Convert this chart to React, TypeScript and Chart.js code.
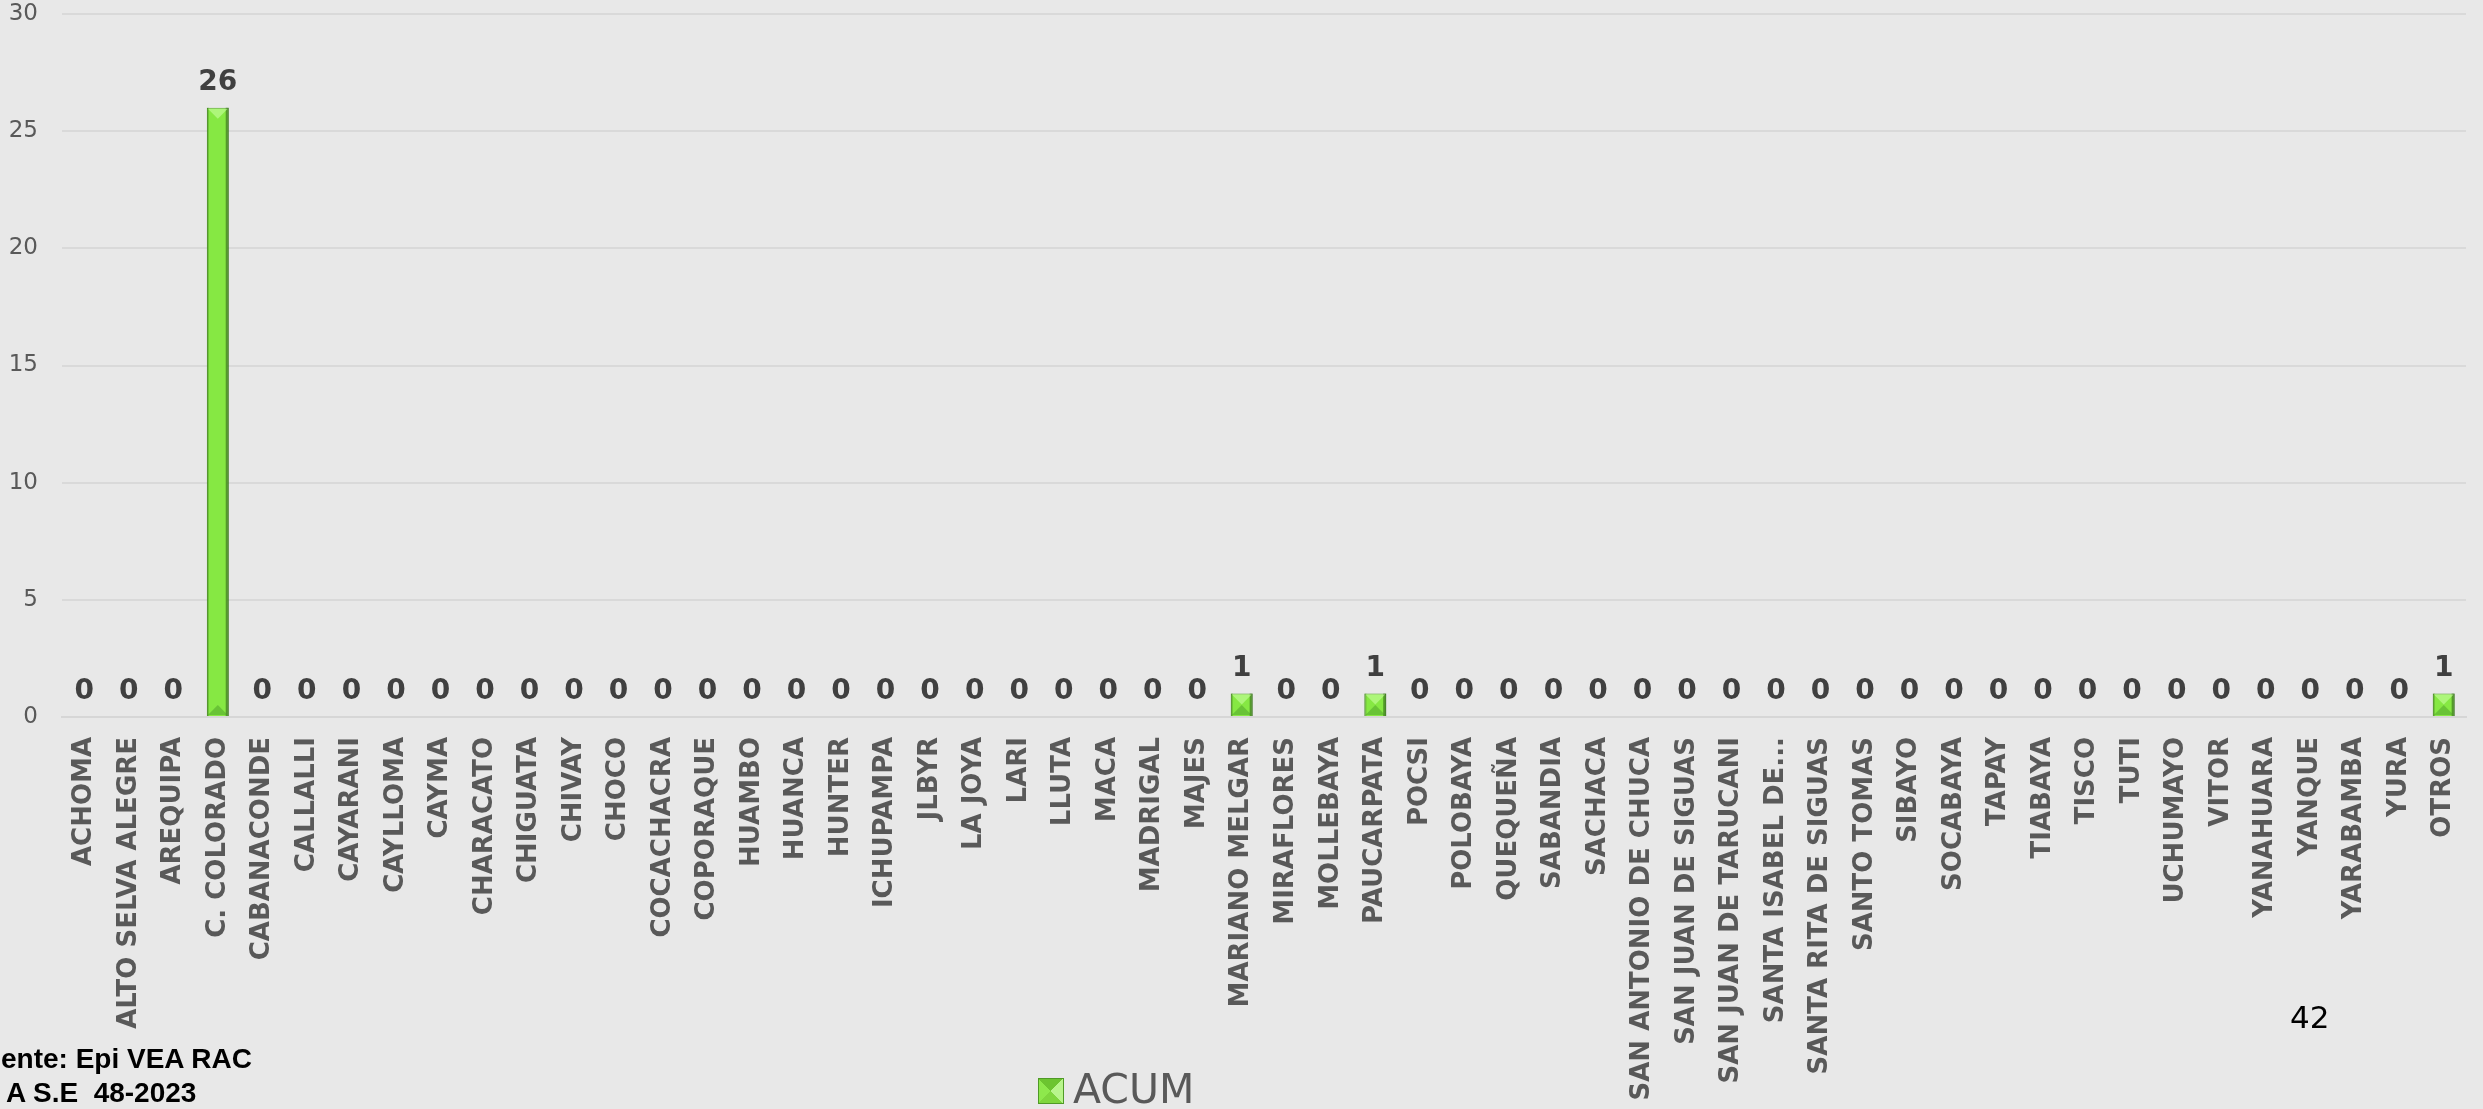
import React, { useEffect, useRef } from "react";
import { Chart, registerables } from "chart.js";

Chart.register(...registerables);

const categories: string[] = [
  "ACHOMA", "ALTO SELVA ALEGRE", "AREQUIPA", "C. COLORADO", "CABANACONDE", "CALLALLI",
  "CAYARANI", "CAYLLOMA", "CAYMA", "CHARACATO", "CHIGUATA", "CHIVAY", "CHOCO",
  "COCACHACRA", "COPORAQUE", "HUAMBO", "HUANCA", "HUNTER", "ICHUPAMPA", "JLBYR",
  "LA JOYA", "LARI", "LLUTA", "MACA", "MADRIGAL", "MAJES", "MARIANO MELGAR",
  "MIRAFLORES", "MOLLEBAYA", "PAUCARPATA", "POCSI", "POLOBAYA", "QUEQUEÑA",
  "SABANDIA", "SACHACA", "SAN ANTONIO DE CHUCA", "SAN JUAN DE SIGUAS",
  "SAN JUAN DE TARUCANI", "SANTA ISABEL DE...", "SANTA RITA DE SIGUAS",
  "SANTO TOMAS", "SIBAYO", "SOCABAYA", "TAPAY", "TIABAYA", "TISCO", "TUTI",
  "UCHUMAYO", "VITOR", "YANAHUARA", "YANQUE", "YARABAMBA", "YURA", "OTROS",
];

const acumValues: number[] = [
  0, 0, 0, 26, 0, 0,
  0, 0, 0, 0, 0, 0, 0,
  0, 0, 0, 0, 0, 0, 0,
  0, 0, 0, 0, 0, 0, 1,
  0, 0, 1, 0, 0, 0,
  0, 0, 0, 0,
  0, 0, 0,
  0, 0, 0, 0, 0, 0, 0,
  0, 0, 0, 0, 0, 0, 1,
];

const seriesName = "ACUM";
const yMin = 0;
const yMax = 30;
const yStep = 5;
const sourceLines: string[] = ["ente: Epi VEA RAC", "A S.E  48-2023"];
const pageNumber = "42";

const valueLabels = {
  id: "valueLabels",
  afterDatasetsDraw(chart: any) {
    const ctx = chart.ctx;
    const meta = chart.getDatasetMeta(0);
    const data = chart.data.datasets[0].data as number[];
    ctx.save();
    ctx.font = 'bold 28px "DejaVu Sans"';
    ctx.fillStyle = "#404040";
    ctx.textAlign = "center";
    ctx.textBaseline = "alphabetic";
    meta.data.forEach((bar: any, i: number) => {
      ctx.fillText(String(data[i]), bar.x, bar.y - 18);
    });
    ctx.restore();
  },
};

const barBevel = {
  id: "barBevel",
  afterDatasetsDraw(chart: any) {
    const ctx = chart.ctx;
    const meta = chart.getDatasetMeta(0);
    const data = chart.data.datasets[0].data as number[];
    ctx.save();
    meta.data.forEach((bar: any, i: number) => {
      if (!data[i]) return;
      const w = bar.width;
      const left = bar.x - w / 2;
      const right = bar.x + w / 2;
      const top = bar.y;
      const bottom = bar.base;
      ctx.fillStyle = "rgba(40,90,20,0.55)";
      ctx.fillRect(right - 3, top, 3, bottom - top);
      ctx.fillStyle = "rgba(60,120,30,0.35)";
      ctx.fillRect(left, top, 2, bottom - top);
      ctx.fillStyle = "rgba(200,255,160,0.6)";
      ctx.beginPath();
      ctx.moveTo(left + 1, top + 1);
      ctx.lineTo(right - 1, top + 1);
      ctx.lineTo(bar.x, top + Math.min(w / 2, (bottom - top) / 2));
      ctx.closePath();
      ctx.fill();
      ctx.fillStyle = "rgba(70,150,40,0.45)";
      ctx.beginPath();
      ctx.moveTo(left + 1, bottom - 1);
      ctx.lineTo(right - 1, bottom - 1);
      ctx.lineTo(bar.x, bottom - Math.min(w / 2, (bottom - top) / 2));
      ctx.closePath();
      ctx.fill();
    });
    ctx.restore();
  },
};

export default function App() {
  const canvasRef = useRef<HTMLCanvasElement | null>(null);

  useEffect(() => {
    if (!canvasRef.current) return;
    const chart = new Chart(canvasRef.current, {
      type: "bar",
      data: {
        labels: categories,
        datasets: [
          {
            label: seriesName,
            data: acumValues,
            backgroundColor: "#86E843",
            borderColor: "#4F9A26",
            borderWidth: (c: any) => (c.raw ? 1 : 0),
            categoryPercentage: 0.5,
            barPercentage: 0.98,
          },
        ],
      },
      options: {
        responsive: false,
        animation: false,
        layout: { padding: { top: 14, right: 17, left: 0, bottom: 0 } },
        plugins: {
          legend: { display: false },
          tooltip: { enabled: false },
        },
        scales: {
          x: {
            grid: { display: false, drawTicks: false },
            border: { display: true, color: "#d6d6d6", width: 2 },
            ticks: {
              autoSkip: false,
              minRotation: 90,
              maxRotation: 90,
              padding: 20,
              color: "#595959",
              font: { family: "DejaVu Sans", size: 26, weight: "bold" },
            },
            afterFit: (scale: any) => {
              scale.height = 392;
              scale.paddingLeft = 0;
              scale.paddingRight = 0;
              scale.paddingTop = 0;
              scale.paddingBottom = 0;
            },
          },
          y: {
            min: yMin,
            max: yMax,
            ticks: {
              stepSize: yStep,
              padding: 24,
              color: "#595959",
              font: { family: "DejaVu Sans", size: 23 },
            },
            grid: { color: "#d9d9d9", lineWidth: 2, drawTicks: false },
            border: { display: false },
            afterFit: (scale: any) => {
              scale.width = 62;
              scale.paddingTop = 0;
              scale.paddingBottom = 0;
              scale.paddingLeft = 0;
              scale.paddingRight = 0;
            },
          },
        },
      },
      plugins: [barBevel, valueLabels],
    });
    return () => chart.destroy();
  }, []);

  return (
    <div
      style={{
        position: "absolute",
        left: 0,
        top: 0,
        width: 2483,
        height: 1109,
        background: "#e8e8e8",
        overflow: "hidden",
      }}
    >
      <canvas ref={canvasRef} width={2483} height={1109} style={{ display: "block" }} />
      <div
        style={{
          position: "absolute",
          left: 1,
          top: 1045,
          font: 'bold 28px "Liberation Sans"',
          lineHeight: "28px",
          color: "#000",
          whiteSpace: "pre",
        }}
      >
        {sourceLines[0]}
      </div>
      <div
        style={{
          position: "absolute",
          left: 6,
          top: 1079,
          font: 'bold 28px "Liberation Sans"',
          lineHeight: "28px",
          color: "#000",
          whiteSpace: "pre",
        }}
      >
        {sourceLines[1]}
      </div>
      <div
        style={{
          position: "absolute",
          left: 2290,
          top: 1002,
          font: '31px "DejaVu Sans"',
          lineHeight: "31px",
          color: "#000",
        }}
      >
        {pageNumber}
      </div>
      <div
        style={{
          position: "absolute",
          left: 1038,
          top: 1078,
          width: 24,
          height: 24,
          border: "1px solid #4F9A26",
          background:
            "conic-gradient(from 45deg at 50% 50%, #b8f58c 0deg 90deg, #7fd63e 90deg 180deg, #8ee84c 180deg 270deg, #6cc430 270deg 360deg)",
        }}
      />
      <div
        style={{
          position: "absolute",
          left: 1073,
          top: 1069,
          font: '41px "DejaVu Sans"',
          lineHeight: "41px",
          color: "#595959",
        }}
      >
        {seriesName}
      </div>
    </div>
  );
}
